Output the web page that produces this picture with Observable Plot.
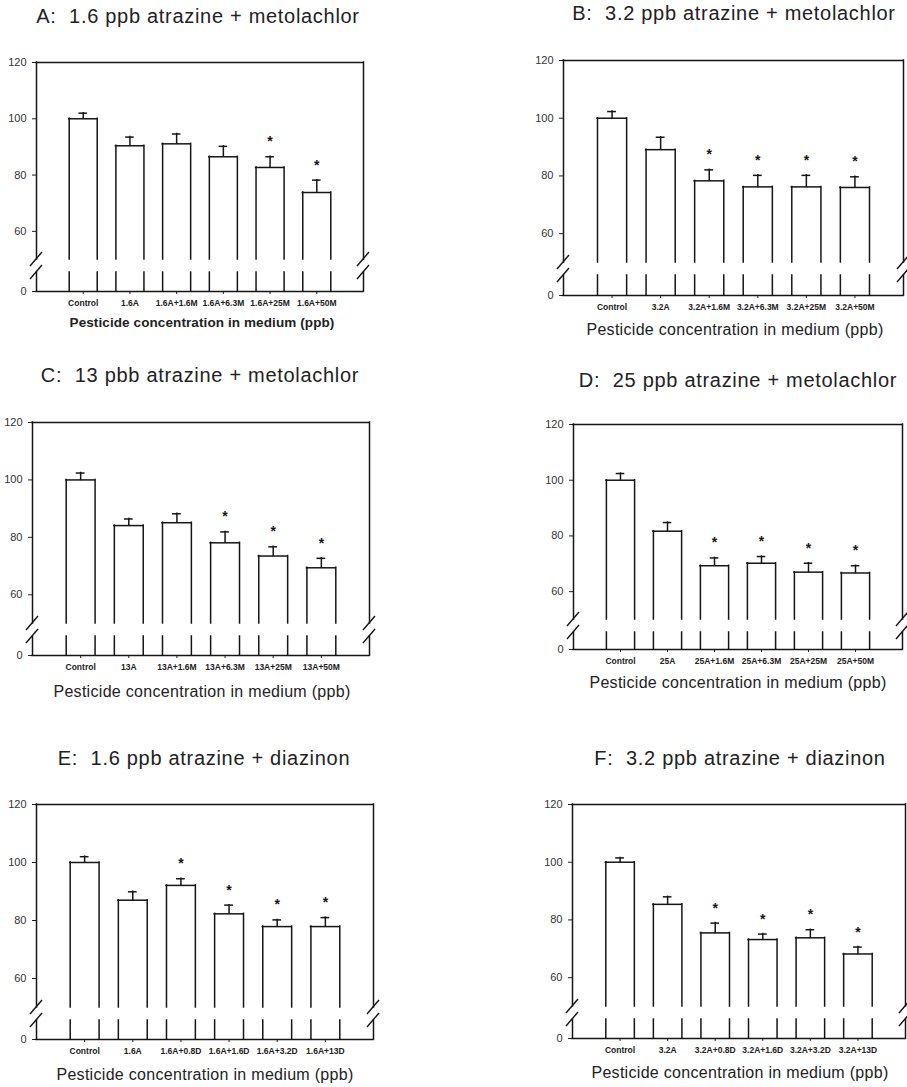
<!DOCTYPE html>
<html><head><meta charset="utf-8">
<script src="https://cdn.jsdelivr.net/npm/d3@7"></script>
<script src="https://cdn.jsdelivr.net/npm/@observablehq/plot@0.6"></script>
<style>
body{margin:0;background:#fff;}
#page{position:relative;width:907px;height:1087px;overflow:hidden;font-family:"Liberation Sans",Arial,sans-serif;color:#222;background:#fff;}
.t{position:absolute;white-space:pre;transform:translate(-50%,-50%);line-height:1;}
.title{font-size:20px;letter-spacing:0.7px;}
.xt{font-size:16px;letter-spacing:0.3px;}
.xtA{font-size:13.5px;font-weight:bold;letter-spacing:0.1px;}
.panel{position:absolute;}
.panel svg{overflow:visible;}
.panel [aria-label^="x-axis"] text{font-size:8.5px;font-weight:bold;}
.panel [aria-label^="y-axis"] text{font-size:11px;fill:#333;}
</style></head><body><div id="page"></div>
<script>
// ---- data ----
const breakLow = 10, breakHigh = 50, yMax = 120;
const yTicks = [0, 60, 80, 100, 120];
const axisTitle = "Pesticide concentration in medium (ppb)";

const titleA = "A:  1.6 ppb atrazine + metolachlor";
const catsA = ["Control", "1.6A", "1.6A+1.6M", "1.6A+6.3M", "1.6A+25M", "1.6A+50M"];
const valsA = [100, 90.4, 91.1, 86.5, 82.7, 73.8];
const errsA = [102.0, 93.5, 94.6, 90.2, 86.5, 78.2];
const sigA  = [0, 0, 0, 0, 1, 1];

const titleB = "B:  3.2 ppb atrazine + metolachlor";
const catsB = ["Control", "3.2A", "3.2A+1.6M", "3.2A+6.3M", "3.2A+25M", "3.2A+50M"];
const valsB = [100, 89.1, 78.3, 76.2, 76.2, 76.0];
const errsB = [102.3, 93.4, 82.1, 80.2, 80.2, 79.7];
const sigB  = [0, 0, 1, 1, 1, 1];

const titleC = "C:  13 pbb atrazine + metolachlor";
const catsC = ["Control", "13A", "13A+1.6M", "13A+6.3M", "13A+25M", "13A+50M"];
const valsC = [100, 84.1, 85.1, 78.1, 73.5, 69.4];
const errsC = [102.4, 86.4, 88.2, 81.9, 76.7, 72.7];
const sigC  = [0, 0, 0, 1, 1, 1];

const titleD = "D:  25 ppb atrazine + metolachlor";
const catsD = ["Control", "25A", "25A+1.6M", "25A+6.3M", "25A+25M", "25A+50M"];
const valsD = [100, 81.7, 69.3, 70.2, 67.0, 66.7];
const errsD = [102.4, 84.8, 72.1, 72.6, 70.2, 69.3];
const sigD  = [0, 0, 1, 1, 1, 1];

const titleE = "E:  1.6 ppb atrazine + diazinon";
const catsE = ["Control", "1.6A", "1.6A+0.8D", "1.6A+1.6D", "1.6A+3.2D", "1.6A+13D"];
const valsE = [100, 87.0, 92.1, 82.3, 77.9, 77.9];
const errsE = [102.0, 89.9, 94.4, 85.3, 80.2, 81.0];
const sigE  = [0, 0, 1, 1, 1, 1];

const titleF = "F:  3.2 ppb atrazine + diazinon";
const catsF = ["Control", "3.2A", "3.2A+0.8D", "3.2A+1.6D", "3.2A+3.2D", "3.2A+13D"];
const valsF = [100, 85.4, 75.5, 73.2, 73.8, 68.2];
const errsF = [101.5, 88.0, 78.9, 75.1, 76.6, 70.6];
const sigF  = [0, 0, 1, 1, 1, 1];

// ---- layout (page pixel coordinates) ----
const layout = [
  {title: titleA, cats: catsA, vals: valsA, errs: errsA, sig: sigA, sx: 0,   sy: 40,  w: 450, h: 280, fl: 36,  fr: 363, ft: 62,  fb: 291,  yb: 259,  yl: 272,  tx: 198, ty: 16,  ax: 202, ay: 323, axCls: "xtA"},
  {title: titleB, cats: catsB, vals: valsB, errs: errsB, sig: sigB, sx: 452, sy: 40,  w: 455, h: 280, fl: 563, fr: 903, ft: 60,  fb: 295,  yb: 262,  yl: 275,  tx: 734, ty: 13,  ax: 735, ay: 330, axCls: "xt"},
  {title: titleC, cats: catsC, vals: valsC, errs: errsC, sig: sigC, sx: 0,   sy: 400, w: 450, h: 280, fl: 32,  fr: 369, ft: 422, fb: 655,  yb: 623,  yl: 636,  tx: 200, ty: 375, ax: 202, ay: 692, axCls: "xt"},
  {title: titleD, cats: catsD, vals: valsD, errs: errsD, sig: sigD, sx: 452, sy: 400, w: 455, h: 270, fl: 573, fr: 902, ft: 424, fb: 649,  yb: 619,  yl: 632,  tx: 738, ty: 380, ax: 738, ay: 683, axCls: "xt"},
  {title: titleE, cats: catsE, vals: valsE, errs: errsE, sig: sigE, sx: 0,   sy: 780, w: 450, h: 285, fl: 36,  fr: 373, ft: 804, fb: 1039, yb: 1007, yl: 1020, tx: 204, ty: 758, ax: 205, ay: 1075, axCls: "xt"},
  {title: titleF, cats: catsF, vals: valsF, errs: errsF, sig: sigF, sx: 452, sy: 780, w: 455, h: 285, fl: 572, fr: 905, ft: 804, fb: 1038, yb: 1006, yl: 1019, tx: 740, ty: 758, ax: 740, ay: 1073, axCls: "xt"}
];

const page = document.getElementById("page");
function addText(cls, txt, cx, cy) {
  const d = document.createElement("div");
  d.className = "t " + cls;
  d.textContent = txt;
  d.style.left = cx + "px";
  d.style.top = cy + "px";
  page.appendChild(d);
}

const ink = "#151515";
const lw = 1.5;
const hw = 0.3, cw = 0.075;

function breakMarks(index, scales) {
  const g = d3.create("svg:g").attr("stroke", ink).attr("stroke-width", 1.4).attr("fill", "none");
  for (const xv of [0, 7]) {
    for (const yv of [breakLow, breakHigh]) {
      const cx = scales.x(xv), cy = scales.y(yv);
      g.append("line").attr("x1", cx - 6).attr("y1", cy + 7).attr("x2", cx + 6).attr("y2", cy - 7);
    }
  }
  return g.node();
}

for (const p of layout) {
  const rows = p.cats.map((c, k) => ({pos: k + 1, cat: c, value: p.vals[k], err: p.errs[k], sig: p.sig[k]}));
  const st = {stroke: ink, strokeWidth: lw, strokeLinecap: "square"};
  const chart = Plot.plot({
    width: p.w, height: p.h,
    marginLeft: p.fl - p.sx, marginRight: p.sx + p.w - p.fr,
    marginTop: p.ft - p.sy, marginBottom: p.sy + p.h - p.fb,
    style: {fontFamily: "Liberation Sans, Arial, sans-serif", fontSize: "11px", color: "#222", background: "transparent"},
    x: {type: "linear", domain: [0, 7], ticks: rows.map(d => d.pos), tickFormat: v => p.cats[v - 1], tickSize: 3, tickPadding: 5, label: null},
    y: {type: "linear", domain: [0, breakLow, breakHigh, yMax],
        range: [p.fb - p.sy, p.yl - p.sy, p.yb - p.sy, p.ft - p.sy],
        ticks: yTicks, tickSize: 4, tickPadding: 6, label: null},
    marks: [
      Plot.ruleY([yMax], {x1: 0, x2: 7, ...st}),
      Plot.ruleY([0], {x1: 0, x2: 7, ...st}),
      Plot.ruleX([0, 7], {y1: breakHigh, y2: yMax, ...st}),
      Plot.ruleX([0, 7], {y1: 0, y2: breakLow, ...st}),
      Plot.ruleX(rows, {x: d => d.pos - hw, y1: breakHigh, y2: "value", ...st}),
      Plot.ruleX(rows, {x: d => d.pos + hw, y1: breakHigh, y2: "value", ...st}),
      Plot.ruleY(rows, {y: "value", x1: d => d.pos - hw, x2: d => d.pos + hw, ...st}),
      Plot.ruleX(rows, {x: d => d.pos - hw, y1: 0, y2: breakLow, ...st}),
      Plot.ruleX(rows, {x: d => d.pos + hw, y1: 0, y2: breakLow, ...st}),
      Plot.ruleX(rows, {x: "pos", y1: "value", y2: "err", ...st}),
      Plot.ruleY(rows, {y: "err", x1: d => d.pos - cw, x2: d => d.pos + cw, ...st}),
      Plot.text(rows.filter(d => d.sig), {x: "pos", y: "err", text: () => "*", dy: -15, fontSize: 14, fontWeight: "bold", fill: ink}),
      breakMarks
    ]
  });
  const holder = document.createElement("div");
  holder.className = "panel";
  holder.style.left = p.sx + "px";
  holder.style.top = p.sy + "px";
  holder.appendChild(chart);
  page.appendChild(holder);
  addText("title", p.title, p.tx, p.ty);
  addText(p.axCls, axisTitle, p.ax, p.ay);
}
</script>
</body></html>
